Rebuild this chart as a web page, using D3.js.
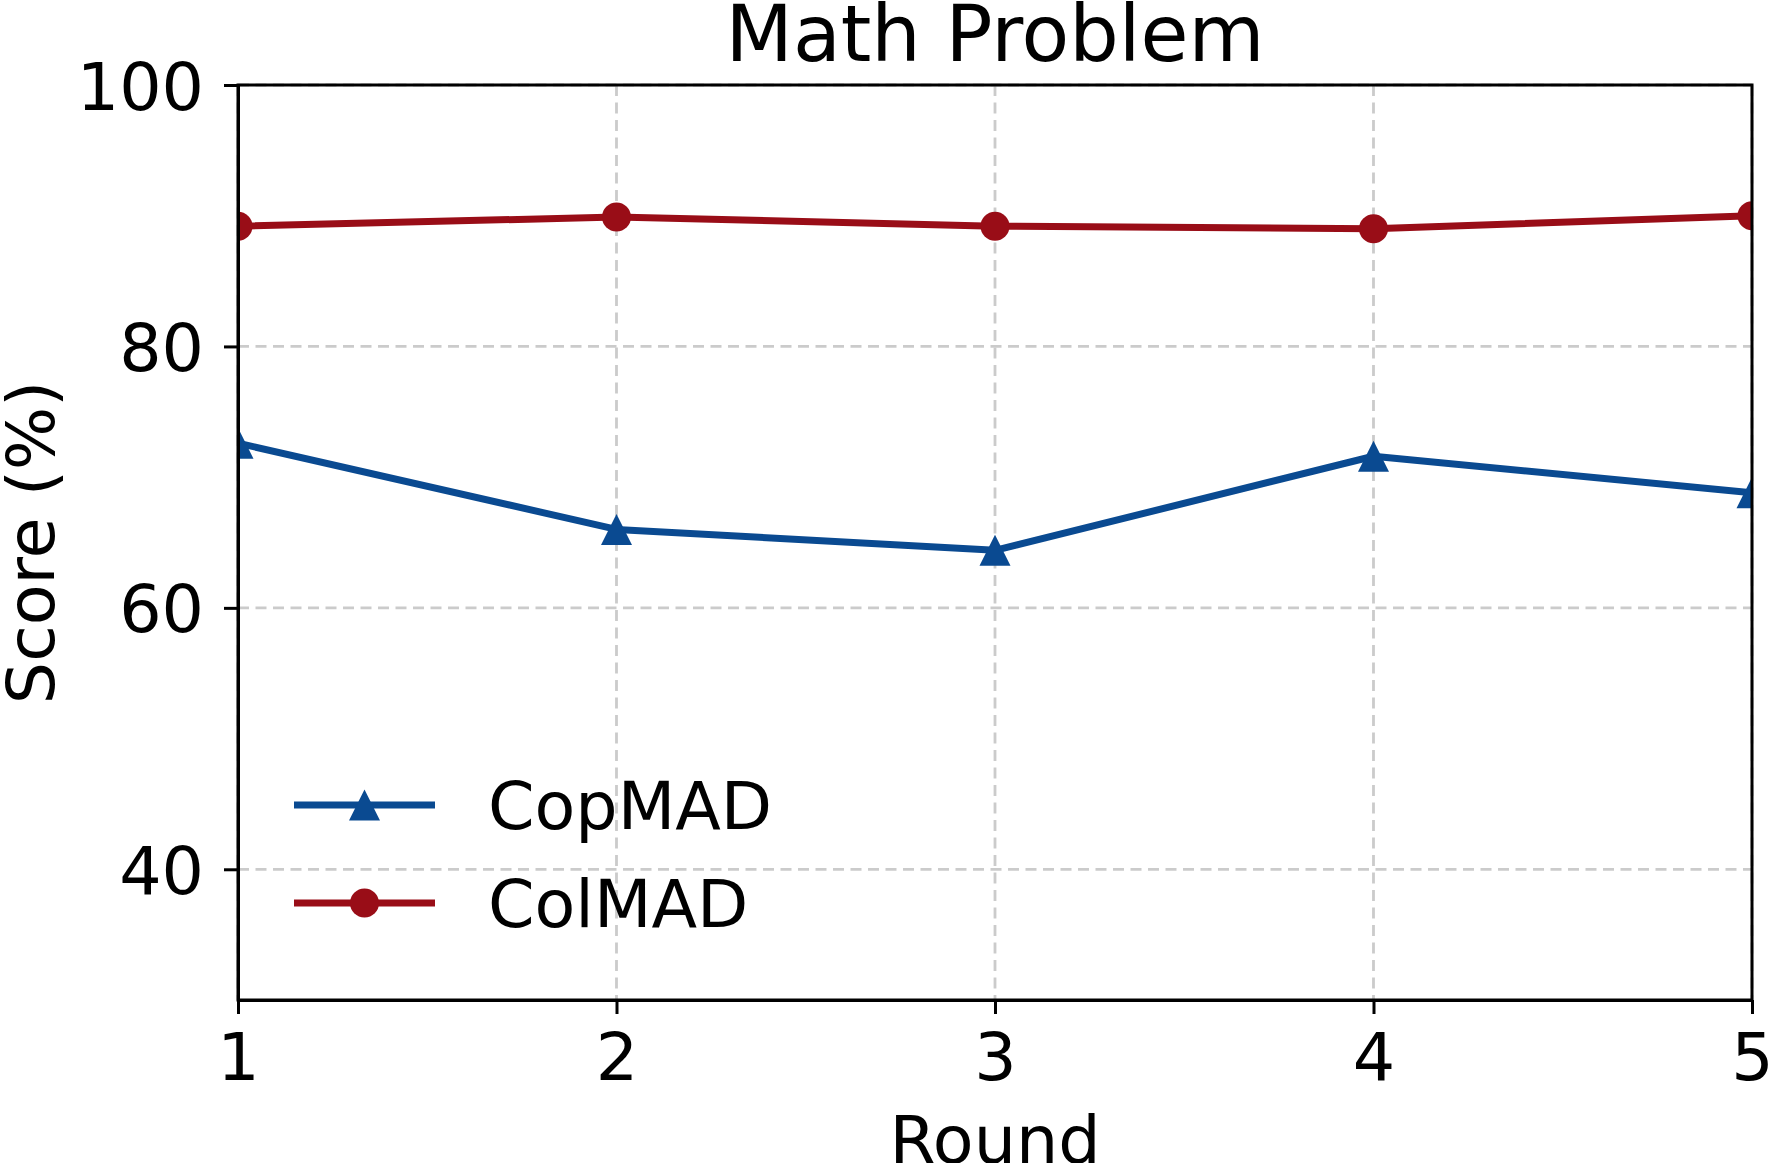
<!DOCTYPE html>
<meta charset="utf-8">
<style>
body { margin: 0; background: #fff; }
svg { display: block; }
text { font-family: "DejaVu Sans", sans-serif; fill: #000; }
.grid line { stroke: #cbcbcb; stroke-width: 2.8px; stroke-dasharray: 11,6.5; }
.axis path, .axis line { stroke: #000; stroke-width: 3px; }
</style>
<svg width="1770" height="1163"></svg>
<script src="https://cdn.jsdelivr.net/npm/d3@7"></script>
<script>

// data
var rounds = [1, 2, 3, 4, 5];
var copmad = [72.6, 66.0, 64.4, 71.6, 68.8];
var colmad = [89.2, 89.9, 89.2, 89.0, 90.0];
var seriesNames = ["CopMAD", "ColMAD"];
var seriesColors = ["#0a4a91", "#990d17"];
var yTicks = [40, 60, 80, 100];

var svg = d3.select("svg"),
    margin = {top: 85, right: 18, bottom: 163, left: 238},
    width = +svg.attr("width") - margin.left - margin.right,
    height = +svg.attr("height") - margin.top - margin.bottom,
    g = svg.append("g").attr("transform", "translate(" + margin.left + "," + margin.top + ")");

var x = d3.scaleLinear().domain([1, 5]).range([0, width]);
var y = d3.scaleLinear().domain([30, 100]).range([height, 0]);

svg.append("defs").append("clipPath").attr("id", "clip")
  .append("rect").attr("width", width).attr("height", height);

// grid
var grid = g.append("g").attr("class", "grid");
grid.selectAll(".gx").data(rounds).enter().append("line")
    .attr("x1", function(d) { return x(d); }).attr("x2", function(d) { return x(d); })
    .attr("y1", 0).attr("y2", height);
grid.selectAll(".gy").data(yTicks).enter().append("line")
    .attr("y1", function(d) { return y(d); }).attr("y2", function(d) { return y(d); })
    .attr("x1", 0).attr("x2", width);

// series
var series = [
  {name: seriesNames[0], color: seriesColors[0], values: copmad, marker: "tri"},
  {name: seriesNames[1], color: seriesColors[1], values: colmad, marker: "dot"}
];

var line = d3.line()
    .x(function(d, i) { return x(rounds[i]); })
    .y(function(d) { return y(d); });

var plot = g.append("g").attr("clip-path", "url(#clip)");

function drawMarker(sel, type, color) {
  if (type == "dot") {
    sel.append("circle").attr("r", 14.5).attr("fill", color);
  } else {
    // triangle, bbox centred on the point
    sel.append("path").attr("d", "M0,-15.5L15.5,15.5L-15.5,15.5Z").attr("fill", color);
  }
}

series.forEach(function(s) {
  plot.append("path")
      .datum(s.values)
      .attr("fill", "none")
      .attr("stroke", s.color)
      .attr("stroke-width", 7)
      .attr("stroke-linejoin", "round")
      .attr("d", line);
  s.values.forEach(function(v, i) {
    var m = plot.append("g").attr("transform", "translate(" + x(rounds[i]) + "," + y(v) + ")");
    drawMarker(m, s.marker, s.color);
  });
});

// axes
var xAxis = g.append("g").attr("class", "axis")
    .attr("transform", "translate(0," + height + ")")
    .call(d3.axisBottom(x).tickValues(rounds).tickFormat(d3.format("d")).tickSize(14).tickSizeOuter(0));
xAxis.selectAll("text").attr("y", 80).attr("dy", 0).style("font-size", "66.7px");

var yAxis = g.append("g").attr("class", "axis")
    .call(d3.axisLeft(y).tickValues(yTicks).tickSize(14).tickPadding(20).tickSizeOuter(0));
yAxis.selectAll("text").attr("dy", "0.36em").style("font-size", "66.7px");

// frame
g.append("rect")
    .attr("width", width).attr("height", height)
    .attr("fill", "none").attr("stroke", "#000").attr("stroke-width", 3);

// titles
svg.append("text")
    .attr("x", margin.left + width / 2).attr("y", 61)
    .attr("text-anchor", "middle")
    .style("font-size", "78px")
    .text("Math Problem");

svg.append("text")
    .attr("x", margin.left + width / 2).attr("y", 1163)
    .attr("text-anchor", "middle")
    .style("font-size", "66.7px")
    .text("Round");

svg.append("text")
    .attr("transform", "translate(54," + (margin.top + height / 2) + ") rotate(-90)")
    .attr("text-anchor", "middle")
    .style("font-size", "66.7px")
    .text("Score (%)");

// legend
var legend = g.append("g").attr("transform", "translate(56,720)");
series.forEach(function(s, i) {
  var row = legend.append("g").attr("transform", "translate(0," + (i * 98) + ")");
  row.append("line").attr("x1", 0).attr("x2", 141)
      .attr("stroke", s.color).attr("stroke-width", 7);
  var m = row.append("g").attr("transform", "translate(70.5,0)");
  drawMarker(m, s.marker, s.color);
  row.append("text").attr("x", 194).attr("y", 24)
      .style("font-size", "66.7px")
      .text(s.name);
});

</script>
